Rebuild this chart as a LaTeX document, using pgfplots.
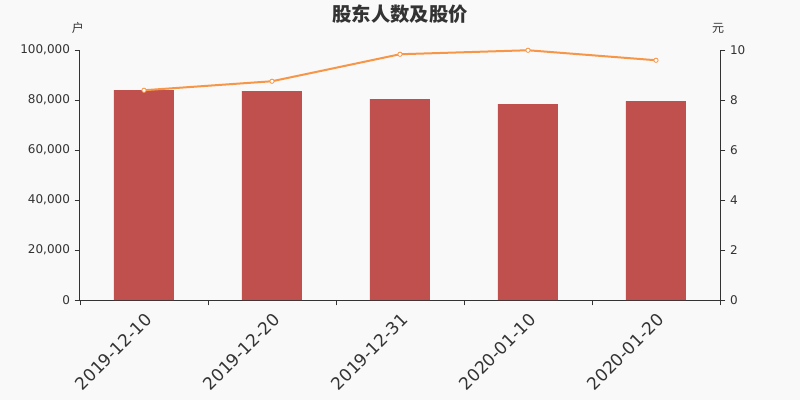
\documentclass[border=0pt]{standalone}
\usepackage{pgfplots}
\pgfplotsset{compat=1.18}
\usepackage{fontspec}
\setmainfont{DejaVu Sans}
\newfontfamily\cjk{Noto Sans CJK SC}
\definecolor{bg}{HTML}{F9F9F9}
\definecolor{barred}{HTML}{C0504D}
\definecolor{lineor}{HTML}{F79646}
\definecolor{txt}{HTML}{333333}

\pgfplotsset{
  common/.style={
    scale only axis, width=480pt, height=187.5pt,
    at={(0pt,0pt)}, anchor=south west,
    xmin=-0.5, xmax=4.5,
    tick align=outside, major tick length=4pt, minor tick length=4pt,
    axis line style={txt, line width=0.75pt}, tick style={txt, line width=0.6pt},
    ticklabel style={font=\fontsize{9}{11}\selectfont, text=txt},
    scaled y ticks=false,
  }
}

\begin{document}
\begin{tikzpicture}
\fill[bg] (-60pt,-75pt) rectangle (540pt,225pt);
\begin{axis}[common,
  ymin=0, ymax=100000,
  axis x line*=bottom, axis y line*=left,
  xtick={0,...,4},
  xticklabels={2019-12-10,2019-12-20,2019-12-31,2020-01-10,2020-01-20},
  major x tick style={draw=none},
  minor xtick={-0.5,0.5,1.5,2.5,3.5,4.5},
  ytick={0,20000,40000,60000,80000,100000},
  yticklabels={0,{20,000},{40,000},{60,000},{80,000},{100,000}},
  xticklabel style={rotate=45, anchor=north east, font=\fontsize{12.8}{14}\selectfont, text=txt},
]
\addplot[ybar, bar width=45pt, fill=barred, draw=none] coordinates {
  (0,84000) (1,83600) (2,80400) (3,78400) (4,79600)
};
\end{axis}
\begin{axis}[common,
  ymin=0, ymax=10,
  axis x line=none, axis y line*=right,
  ytick={0,2,4,6,8,10},
  yticklabels={0,2,4,6,8,10},
]
\addplot[lineor, line width=1.5pt, mark=*, mark size=1.6pt,
  mark options={fill=white, draw=lineor, line width=0.6pt}] coordinates {
  (0,8.39) (1,8.75) (2,9.83) (3,9.99) (4,9.59)
};
\end{axis}
\node[font=\cjk\bfseries\fontsize{14.5}{16}\selectfont, text=txt] at (240pt,214.5pt) {股东人数及股价};
\node[font=\cjk\fontsize{9}{11}\selectfont, text=txt] at (-1.5pt,204pt) {户};
\node[font=\cjk\fontsize{9}{11}\selectfont, text=txt] at (478.5pt,204pt) {元};
\end{tikzpicture}
\end{document}
